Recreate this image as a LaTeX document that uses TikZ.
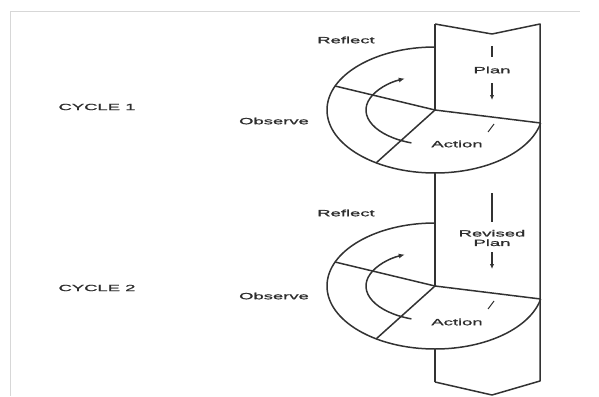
\documentclass[tikz,border=0pt]{standalone}
\usepackage{fontspec}
\usepackage{tikz}
\usetikzlibrary{arrows.meta}
\usepackage{xcolor}
\newfontfamily\wideFont[FakeStretch=2.05,FakeBold=1.2]{Liberation Sans}
\definecolor{ColLine}{RGB}{50,50,50}
\definecolor{ColText}{RGB}{45,45,45}
\definecolor{ColFrame}{RGB}{215,215,215}
\tikzstyle{LabelText}=[inner sep=0pt,text=ColText,font=\wideFont\fontsize{9}{10.5}\selectfont]
\tikzstyle{CycleLine}=[ColLine,line width=1.5pt,line join=round]
\tikzstyle{SpinArrow}=[ColLine,line width=1.5pt,-{Latex[length=6pt,width=5pt]}]
\tikzstyle{PlanArrow}=[ColLine,line width=1.5pt,-{Latex[length=5pt,width=4.5pt]}]
\tikzstyle{FrameLine}=[ColFrame,line width=1pt]

\begin{document}
\begin{tikzpicture}[x=1pt,y=1pt]
        \useasboundingbox(0,0)rectangle(599,-396);
        % page frame
        \coordinate(frA)at(10,-396);
        \coordinate(frB)at(10,-12);
        \coordinate(frC)at(580,-12);
        \draw[FrameLine](frA)--(frB)--(frC);
        % pillar
        \coordinate(pTL)at(435,-24);
        \coordinate(pTM)at(492,-34);
        \coordinate(pTR)at(540,-24);
        \coordinate(pBR)at(540,-381);
        \coordinate(pBM)at(492,-395);
        \coordinate(pBL)at(435,-382);
        \draw[CycleLine](pTL)--(pTM)--(pTR)--(pBR)--(pBM)--(pBL);
        % cycle 1
        \coordinate(cA)at(435,-110);
        \coordinate(cAtop)at(435,-47);
        \coordinate(cAbot)at(435,-173);
        \coordinate(cAleft)at(335,-86);
        \coordinate(cAlow)at(376,-163);
        \coordinate(cAright)at(540.6,-123);
        \coordinate(cAspin)at(411.4,-142.9);
        \draw[CycleLine](pTL)--(cA);
        \draw[CycleLine](cAtop)arc[start angle=90,end angle=348,x radius=108,y radius=63];
        \draw[CycleLine](cA)--(cAleft);
        \draw[CycleLine](cA)--(cAlow);
        \draw[CycleLine](cA)--(cAright);
        \draw[SpinArrow](cAspin)arc[start angle=250,end angle=116,x radius=69,y radius=35];
        \node[LabelText](cycA)at(97,-107){CYCLE 1};
        \node[LabelText](reflA)at(346,-40){Reflect};
        \node[LabelText](obsA)at(274,-121){Observe};
        \node[LabelText](actA)at(457,-144){Action};
        \node[LabelText](planA)at(492,-70){Plan};
        \coordinate(barA1)at(492,-46);
        \coordinate(barA2)at(492,-57);
        \coordinate(arrA1)at(492,-83);
        \coordinate(arrA2)at(492,-100);
        \coordinate(tickA1)at(488,-132);
        \coordinate(tickA2)at(494,-124);
        \draw[CycleLine](barA1)--(barA2);
        \draw[PlanArrow](arrA1)--(arrA2);
        \draw[ColLine,line width=1pt](tickA1)--(tickA2);
        % cycle 2
        \coordinate(cB)at(435,-286);
        \coordinate(cBtop)at(435,-223);
        \coordinate(cBbot)at(435,-349);
        \coordinate(cBleft)at(335,-262);
        \coordinate(cBlow)at(376,-339);
        \coordinate(cBright)at(540.6,-299);
        \coordinate(cBspin)at(411.4,-318.9);
        \draw[CycleLine](cAbot)--(cB);
        \draw[CycleLine](cBbot)--(pBL);
        \draw[CycleLine](cBtop)arc[start angle=90,end angle=348,x radius=108,y radius=63];
        \draw[CycleLine](cB)--(cBleft);
        \draw[CycleLine](cB)--(cBlow);
        \draw[CycleLine](cB)--(cBright);
        \draw[SpinArrow](cBspin)arc[start angle=250,end angle=116,x radius=69,y radius=35];
        \node[LabelText](cycB)at(97,-288){CYCLE 2};
        \node[LabelText](reflB)at(346,-213){Reflect};
        \node[LabelText](obsB)at(274,-296){Observe};
        \node[LabelText](actB)at(457,-322){Action};
        \node[LabelText,align=center](planB)at(492,-238){Revised\\[-1pt]Plan};
        \coordinate(barB1)at(492,-193);
        \coordinate(barB2)at(492,-222);
        \coordinate(arrB1)at(492,-252);
        \coordinate(arrB2)at(492,-269);
        \coordinate(tickB1)at(488,-309);
        \coordinate(tickB2)at(494,-301);
        \draw[CycleLine](barB1)--(barB2);
        \draw[PlanArrow](arrB1)--(arrB2);
        \draw[ColLine,line width=1pt](tickB1)--(tickB2);
    \end{tikzpicture}
\end{document}
